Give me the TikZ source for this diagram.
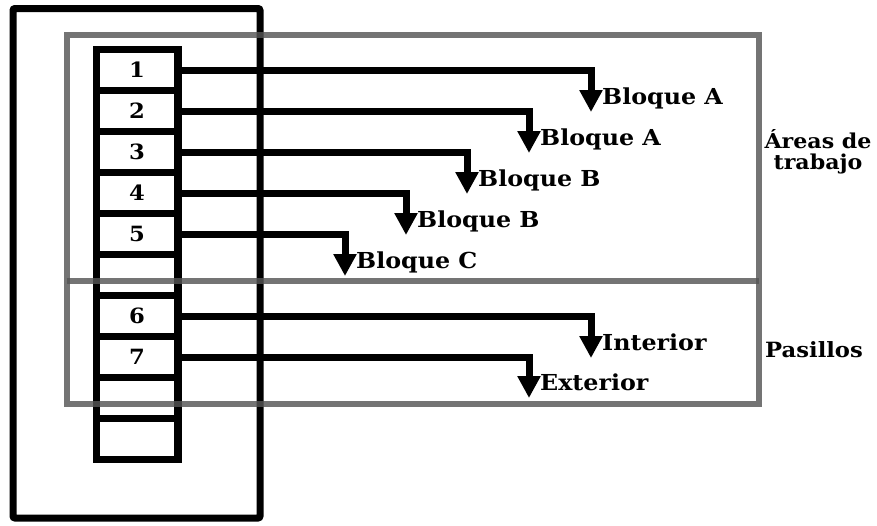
\documentclass[tikz,border=0pt]{standalone}
\usepackage{fontspec}
\setmainfont{DejaVu Serif}[FakeStretch=1.08]
\usetikzlibrary{arrows.meta}
\definecolor{zonegray}{RGB}{85,85,85}
\tikzset{
  cell/.style={draw=black, line width=7.5pt, minimum width=81.5pt, minimum height=41pt, inner sep=0pt, font=\bfseries\fontsize{21}{25}\selectfont},
  wire/.style={line width=7pt, -{Triangle[width=22pt,length=22pt]}},
  lbl/.style={inner sep=0pt, anchor=base west, font=\bfseries\fontsize{22}{25}\selectfont},
  zone/.style={draw=zonegray, line width=6pt, draw opacity=0.82},
}
\begin{document}
\begin{tikzpicture}[x=1pt,y=-1pt]
\useasboundingbox (0,0) rectangle (877,525);
% outer rack
\draw[line width=7pt, rounded corners=2pt] (13,8.5) rectangle (260,518);
% cells
\foreach \i/\t in {1/1,2/2,3/3,4/4,5/5,6/,7/6,8/7,9/,10/} {
  \node[cell] (c\i) at (137,{70+41*(\i-1)}) {\t};
}
% tips
\coordinate (t1) at (591,112);
\coordinate (t2) at (529,153);
\coordinate (t3) at (467,194);
\coordinate (t4) at (406,235);
\coordinate (t5) at (345,276);
\coordinate (t7) at (591,358);
\coordinate (t8) at (529,398);
\foreach \i in {1,2,3,4,5,7,8} {
  \draw[wire] (c\i.east) -| (t\i);
}
\node[lbl] (l1) at ([shift={(11,-7.5)}]t1) {Bloque A};
\node[lbl] (l2) at ([shift={(11,-7.5)}]t2) {Bloque A};
\node[lbl] (l3) at ([shift={(11,-7.5)}]t3) {Bloque B};
\node[lbl] (l4) at ([shift={(11,-7.5)}]t4) {Bloque B};
\node[lbl] (l5) at ([shift={(11,-7.5)}]t5) {Bloque C};
\node[lbl] (l7) at ([shift={(11,-7.5)}]t7) {Interior};
\node[lbl] (l8) at ([shift={(11,-7.5)}]t8) {Exterior};
% zones
\draw[zone] (66.5,35) rectangle (759,404);
\draw[zone] (66.5,281) -- (759,281);
\node[inner sep=0pt, align=center, font=\bfseries\fontsize{20.5}{21}\selectfont] (za) at (818,152) {Áreas de\\trabajo};
\node[inner sep=0pt, anchor=west, font=\bfseries\fontsize{21}{25}\selectfont] (zp) at (765,350) {Pasillos};
\end{tikzpicture}
\end{document}
